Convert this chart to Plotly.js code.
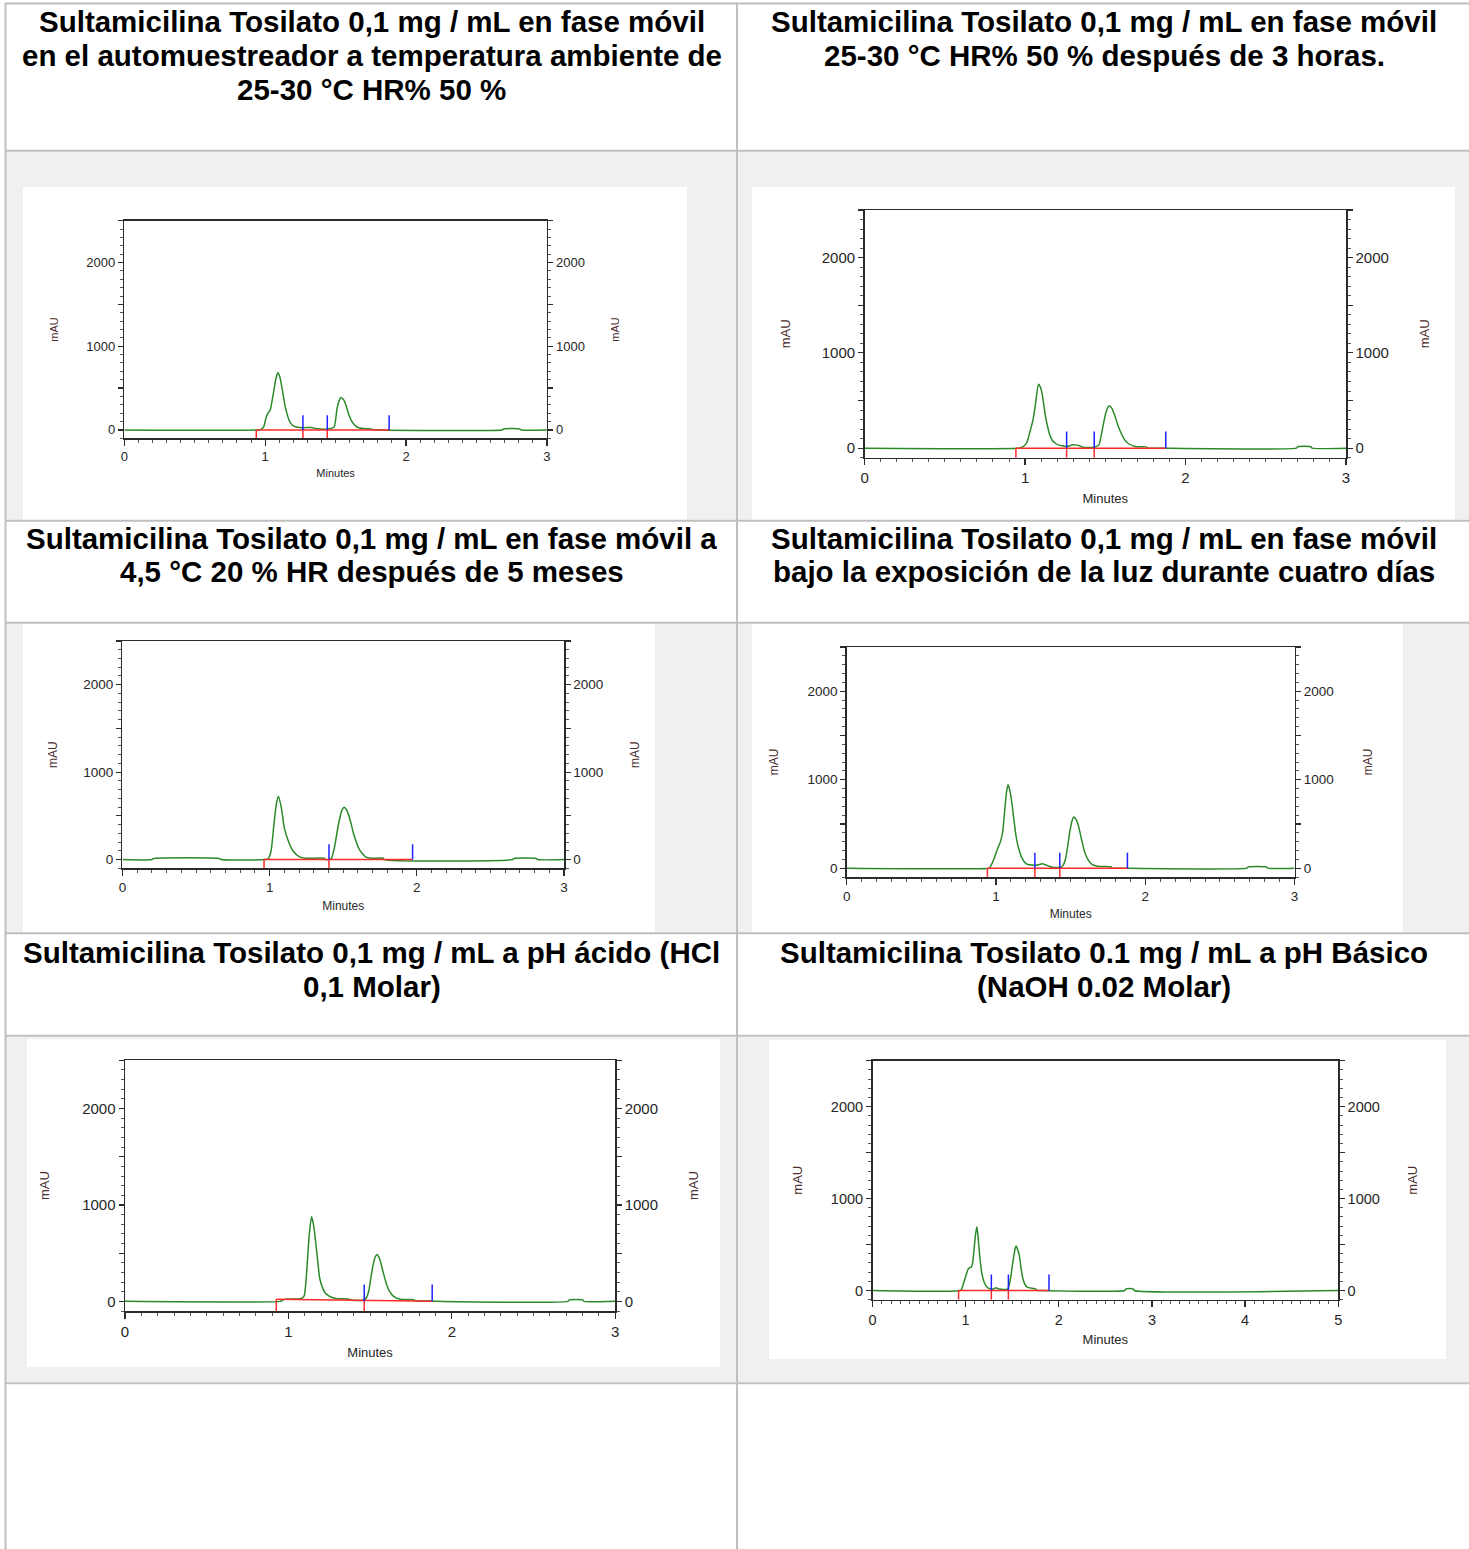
<!DOCTYPE html>
<html>
<head>
<meta charset="utf-8">
<script src="https://cdn.plot.ly/plotly-3.0.1.min.js"></script>
<style>
  html, body { margin: 0; padding: 0; background: #ffffff; }
  #fig { width: 1469px; height: 1549px; }
</style>
</head>
<body>
<div id="fig"></div>
<script>
// ---------- chromatogram traces: retention time (min) / absorbance (mAU) ----------
const t1 = [0, 0.95, 0.97, 0.99, 1.005, 1.02, 1.035, 1.047, 1.06, 1.075, 1.089, 1.103, 1.116, 1.128, 1.14, 1.155, 1.17, 1.185, 1.2, 1.22, 1.246, 1.27, 1.3, 1.33, 1.36, 1.39, 1.44, 1.465, 1.49, 1.51, 1.525, 1.538, 1.552, 1.565, 1.58, 1.595, 1.61, 1.626, 1.645, 1.67, 1.71, 1.753, 1.77, 1.8, 2.68, 2.7, 2.8, 2.82, 3];
const a1 = [0, 0, 6, 40, 136, 200, 235, 330, 455, 600, 683, 640, 535, 420, 295, 195, 116, 72, 48, 35, 28, 25, 30, 28, 16, 11, 10, 16, 36, 255, 350, 387, 370, 335, 260, 176, 118, 76, 42, 24, 15, 12, 2, 0, 0, 14, 14, 0, 0];

const t2 = [0, 0.96, 0.979, 0.995, 1.013, 1.03, 1.05, 1.064, 1.084, 1.096, 1.106, 1.126, 1.14, 1.154, 1.17, 1.191, 1.21, 1.233, 1.26, 1.28, 1.295, 1.32, 1.34, 1.36, 1.43, 1.459, 1.475, 1.487, 1.505, 1.524, 1.54, 1.558, 1.575, 1.595, 1.62, 1.643, 1.685, 1.755, 1.764, 1.8, 2.69, 2.7, 2.78, 2.79, 3];
const a2 = [0, 0, 8, 25, 67, 170, 300, 453, 671, 640, 576, 348, 230, 137, 80, 49, 32, 25, 18, 26, 35, 32, 25, 10, 10, 32, 140, 243, 380, 446, 420, 348, 260, 172, 90, 49, 18, 14, 0, 0, 0, 15, 15, 0, 0];

const t3 = [0, 0.2, 0.21, 0.66, 0.67, 0.97, 0.99, 1.009, 1.029, 1.045, 1.059, 1.078, 1.1, 1.128, 1.162, 1.203, 1.245, 1.37, 1.378, 1.417, 1.439, 1.467, 1.49, 1.505, 1.52, 1.536, 1.555, 1.572, 1.611, 1.655, 1.688, 1.772, 1.777, 2.65, 2.66, 2.81, 2.82, 3];
const a3 = [0, 0, 12, 12, 0, 0, 8, 92, 398, 628, 724, 609, 360, 207, 92, 31, 15, 15, 0, 8, 130, 398, 560, 598, 575, 513, 400, 284, 111, 27, 15, 15, 0, 0, 12, 12, 0, 0];

const t4 = [0, 0.95, 0.959, 0.987, 1.01, 1.029, 1.045, 1.057, 1.07, 1.08, 1.092, 1.105, 1.12, 1.133, 1.15, 1.17, 1.19, 1.212, 1.24, 1.269, 1.29, 1.311, 1.33, 1.353, 1.381, 1.438, 1.452, 1.466, 1.48, 1.494, 1.508, 1.52, 1.535, 1.551, 1.572, 1.593, 1.615, 1.635, 1.66, 1.692, 1.77, 1.776, 1.8, 2.68, 2.69, 2.81, 2.82, 3];
const a4 = [0, 0, 8, 109, 220, 297, 420, 635, 860, 944, 880, 748, 540, 372, 230, 128, 70, 41, 35, 34, 42, 49, 38, 23, 8, 11, 40, 109, 250, 410, 530, 579, 555, 485, 330, 184, 100, 53, 30, 19, 15, 0, 0, 0, 15, 15, 0, 0];

const t5 = [0, 0.95, 0.96, 0.98, 1.05, 1.08, 1.096, 1.105, 1.115, 1.128, 1.142, 1.153, 1.164, 1.178, 1.191, 1.207, 1.224, 1.25, 1.273, 1.3, 1.369, 1.38, 1.464, 1.478, 1.492, 1.505, 1.519, 1.53, 1.541, 1.555, 1.568, 1.585, 1.601, 1.62, 1.642, 1.683, 1.765, 1.779, 1.88, 1.9, 2.71, 2.72, 2.8, 2.81, 3];
const a5 = [0, 0, 8, 22, 25, 30, 55, 160, 383, 700, 877, 800, 660, 440, 245, 150, 90, 55, 38, 28, 24, 14, 14, 40, 107, 250, 383, 455, 487, 455, 383, 270, 176, 100, 55, 21, 17, 7, 3, 0, 0, 15, 15, 0, 0];

const t6 = [0, 0.94, 0.957, 0.975, 0.994, 1.012, 1.027, 1.045, 1.06, 1.075, 1.088, 1.105, 1.121, 1.138, 1.154, 1.172, 1.191, 1.215, 1.238, 1.285, 1.31, 1.323, 1.345, 1.379, 1.449, 1.465, 1.482, 1.5, 1.519, 1.532, 1.543, 1.56, 1.576, 1.595, 1.614, 1.635, 1.66, 1.754, 1.764, 1.8, 2.71, 2.72, 2.8, 2.81, 5];
const a6 = [0, 0, 15, 70, 131, 190, 232, 248, 254, 300, 421, 600, 693, 530, 348, 200, 113, 55, 29, 15, 22, 29, 22, 15, 15, 50, 131, 260, 385, 460, 483, 440, 385, 240, 131, 70, 36, 15, 0, 0, 0, 18, 18, 0, 0];

// ---------- integration events (min): peak start (red) and peak end (blue) ----------
const red1 = [0.937, 1.268, 1.441];
const blue1 = [1.268, 1.441, 1.880];
const red2 = [0.943, 1.259, 1.431];
const blue2 = [1.259, 1.431, 1.877];
const red3 = [0.962, 1.403];
const blue3 = [1.403, 1.971];
const red4 = [0.942, 1.260, 1.427];
const blue4 = [1.260, 1.427, 1.880];
const red5 = [0.926, 1.464];
const blue5 = [1.464, 1.880];
const red6 = [0.924, 1.276, 1.459];
const blue6 = [1.276, 1.459, 1.895];

// baseline level (mAU) at each start event and at the final end event
const lvl1 = [0, 0, 0, 0];
const lvl2 = [0, 0, 0, 0];
const lvl3 = [0, 0, 0];
const lvl4 = [0, 0, 0, 0];
const lvl5 = [22, 14, 2];
const lvl6 = [0, 0, 0, 0];

// ---------- axis scales and labels ----------
const yRange = [-100, 2500];
const yTickVals = [0, 500, 1000, 1500, 2000, 2500];
const yTickText = ['0', '', '1000', '', '2000', ''];
const xMax = [3, 3, 3, 3, 3, 5];
const xTitle = 'Minutes';
const yTitle = 'mAU';

// ---------- cell headings ----------
const headings = [
  ['Sultamicilina Tosilato 0,1 mg / mL en fase móvil', 'en el automuestreador a temperatura ambiente de', '25-30 °C HR% 50 %'],
  ['Sultamicilina Tosilato 0,1 mg / mL en fase móvil', '25-30 °C HR% 50 % después de 3 horas.'],
  ['Sultamicilina Tosilato 0,1 mg / mL en fase móvil a', '4,5 °C 20 % HR después de 5 meses'],
  ['Sultamicilina Tosilato 0,1 mg / mL en fase móvil', 'bajo la exposición de la luz durante cuatro días'],
  ['Sultamicilina Tosilato 0,1 mg / mL a pH ácido (HCl', '0,1 Molar)'],
  ['Sultamicilina Tosilato 0.1 mg / mL a pH Básico', '(NaOH 0.02 Molar)']
];

// ---------- page geometry (px) ----------
const W = 1469, H = 1549;
const fx = x => x / W;
const fy = y => 1 - y / H;

// plot frames [left, right, top, bottom], white panels [x0, x1, y0, y1], font sizes, title offsets
const frames = [
  {box: [124.3, 546.9, 220.7, 438.3], panel: [23, 687, 187, 520], tf: 13, af: 11, sl: 25, sr: 27, sx: 6},
  {box: [864.6, 1346.0, 210, 457.7], panel: [752, 1455, 187, 520], tf: 15, af: 13, sl: 28, sr: 32, sx: 8},
  {box: [122.4, 564.1, 641, 868.3], panel: [23, 655, 624, 932], tf: 13.5, af: 12, sl: 23, sr: 28, sx: 7},
  {box: [846.8, 1294.6, 647, 877], panel: [752, 1403, 624, 932], tf: 13.5, af: 12, sl: 26, sr: 31, sx: 7},
  {box: [125, 615.2, 1060.3, 1311], panel: [27, 720, 1039, 1367], tf: 15, af: 13, sl: 29, sr: 32, sx: 9},
  {box: [872.5, 1338.2, 1060.7, 1299.7], panel: [769, 1446, 1040, 1359], tf: 14.5, af: 13, sl: 25, sr: 29, sx: 8}
];

const traces = [[t1, a1], [t2, a2], [t3, a3], [t4, a4], [t5, a5], [t6, a6]];
const events = [[red1, blue1, lvl1], [red2, blue2, lvl2], [red3, blue3, lvl3], [red4, blue4, lvl4], [red5, blue5, lvl5], [red6, blue6, lvl6]];

const FONT = 'Liberation Sans, Arial, sans-serif';
const AXIS_COLOR = '#2b2b2b';
const TEXT_COLOR = '#262626';
const TITLE_COLOR = '#4a2c2c';
const GREEN = '#2a8a2a';
const RED = '#ff2a2a';
const BLUE = '#2020ff';
const MARK_UP = 175;

const data = [];
const layout = {
  width: W, height: H,
  margin: {l: 0, r: 0, t: 0, b: 0, pad: 0},
  paper_bgcolor: '#ffffff',
  plot_bgcolor: 'rgba(0,0,0,0)',
  showlegend: false,
  shapes: [],
  annotations: []
};

// table background and rules
const grey = '#f0f0f0';
const rule = '#bfbfbf';
const imageRows = [[151.7, 519.7], [623.7, 932.3], [1036.7, 1382.3]];
imageRows.forEach(([y0, y1]) => {
  layout.shapes.push({type: 'rect', xref: 'paper', yref: 'paper', layer: 'below',
    x0: fx(6.5), x1: fx(736), y0: fy(y1), y1: fy(y0), fillcolor: grey, line: {width: 0}});
  layout.shapes.push({type: 'rect', xref: 'paper', yref: 'paper', layer: 'below',
    x0: fx(738), x1: fx(1469), y0: fy(y1), y1: fy(y0), fillcolor: grey, line: {width: 0}});
});
frames.forEach(f => {
  const [x0, x1, y0, y1] = f.panel;
  layout.shapes.push({type: 'rect', xref: 'paper', yref: 'paper', layer: 'below',
    x0: fx(x0), x1: fx(x1), y0: fy(y1), y1: fy(y0), fillcolor: '#ffffff', line: {width: 0}});
});
[3.5, 150.7, 520.7, 622.7, 933.3, 1035.7, 1383.3].forEach(y => {
  layout.shapes.push({type: 'line', xref: 'paper', yref: 'paper', layer: 'below',
    x0: fx(5.5), x1: fx(1469), y0: fy(y), y1: fy(y), line: {color: rule, width: 2}});
});
[5.5, 737].forEach(x => {
  layout.shapes.push({type: 'line', xref: 'paper', yref: 'paper', layer: 'below',
    x0: fx(x), x1: fx(x), y0: fy(2.5), y1: fy(1549), line: {color: rule, width: 2}});
});

// headings, one annotation per line
const headCenters = [371.5, 1104, 371.5, 1104, 371.5, 1104];
const headTops = [21.5, 21.5, 538, 538, 952, 952];
const LINE_STEP = 34;
headings.forEach((lines, i) => {
  lines.forEach((txt, j) => {
    layout.annotations.push({
      xref: 'paper', yref: 'paper', x: fx(headCenters[i]), y: fy(headTops[i] + j * LINE_STEP),
      xanchor: 'center', yanchor: 'middle', showarrow: false,
      text: '<b>' + txt + '</b>',
      font: {family: FONT, size: 29.5, color: '#000000'}
    });
  });
});

// chromatograms
frames.forEach((f, i) => {
  const k = i + 1;
  const xa = k === 1 ? 'x' : 'x' + k;
  const yl = 'y' + (2 * k - 1 === 1 ? '' : 2 * k - 1);
  const yr = 'y' + (2 * k);
  const xKey = 'xaxis' + (k === 1 ? '' : k);
  const ylKey = 'yaxis' + (2 * k - 1 === 1 ? '' : 2 * k - 1);
  const yrKey = 'yaxis' + (2 * k);
  const [L, R, T, B] = f.box;

  const tickFont = {family: FONT, size: f.tf, color: TEXT_COLOR};
  const yCommon = {
    range: yRange, tickmode: 'array', tickvals: yTickVals, ticktext: yTickText,
    ticks: 'outside', ticklen: 5, tickwidth: 1.2, tickcolor: AXIS_COLOR,
    minor: {tickmode: 'linear', tick0: 0, dtick: 100, ticks: 'outside', ticklen: 3, tickwidth: 1, tickcolor: '#555'},
    showline: true, linecolor: AXIS_COLOR, linewidth: 1.5,
    showgrid: false, zeroline: false, tickfont: tickFont, automargin: false, fixedrange: true,
    domain: [fy(B), fy(T)]
  };

  layout[xKey] = {
    domain: [fx(L), fx(R)], range: [0, xMax[i]], anchor: yl,
    tickmode: 'linear', tick0: 0, dtick: 1,
    ticks: 'outside', ticklen: 6, tickwidth: 1.2, tickcolor: AXIS_COLOR,
    minor: {tickmode: 'linear', tick0: 0, dtick: 0.1, ticks: 'outside', ticklen: 3, tickwidth: 1, tickcolor: '#555'},
    showline: true, mirror: true, linecolor: AXIS_COLOR, linewidth: 1.5,
    showgrid: false, zeroline: false, tickfont: tickFont, automargin: false, fixedrange: true,
    title: {text: xTitle, standoff: f.sx, font: {family: FONT, size: f.af, color: TEXT_COLOR}}
  };
  layout[ylKey] = Object.assign({}, yCommon, {
    anchor: xa, side: 'left',
    title: {text: yTitle, standoff: f.sl, font: {family: FONT, size: f.af, color: TITLE_COLOR}}
  });
  layout[yrKey] = Object.assign({}, yCommon, {
    anchor: xa, side: 'right', overlaying: yl,
    title: {text: yTitle, standoff: f.sr, font: {family: FONT, size: f.af, color: TITLE_COLOR}}
  });

  // signal
  const [tt, aa] = traces[i];
  data.push({type: 'scatter', mode: 'lines', x: tt, y: aa, xaxis: xa, yaxis: yl,
    line: {color: GREEN, width: 1.5, shape: 'spline', smoothing: 0.6}, hoverinfo: 'skip'});

  // integration baseline and event marks
  const [reds, blues, lvls] = events[i];
  const bx = reds.concat([blues[blues.length - 1]]);
  data.push({type: 'scatter', mode: 'lines', x: bx, y: lvls, xaxis: xa, yaxis: yl,
    line: {color: RED, width: 1.5}, hoverinfo: 'skip'});
  const rx = [], ry = [];
  reds.forEach((t, j) => { rx.push(t, t, null); ry.push(lvls[j], yRange[0], null); });
  data.push({type: 'scatter', mode: 'lines', x: rx, y: ry, xaxis: xa, yaxis: yl,
    line: {color: RED, width: 1.5}, hoverinfo: 'skip'});
  const ux = [], uy = [];
  blues.forEach(t => { ux.push(t, t, null); uy.push(0, MARK_UP, null); });
  data.push({type: 'scatter', mode: 'lines', x: ux, y: uy, xaxis: xa, yaxis: yl,
    line: {color: BLUE, width: 1.5}, hoverinfo: 'skip'});
  // invisible point so the right-hand axis is drawn
  data.push({type: 'scatter', mode: 'lines', x: [0], y: [0], xaxis: xa, yaxis: yr,
    line: {width: 0}, hoverinfo: 'skip', showlegend: false});
});

Plotly.newPlot('fig', data, layout, {staticPlot: true, displayModeBar: false});
</script>
</body>
</html>
